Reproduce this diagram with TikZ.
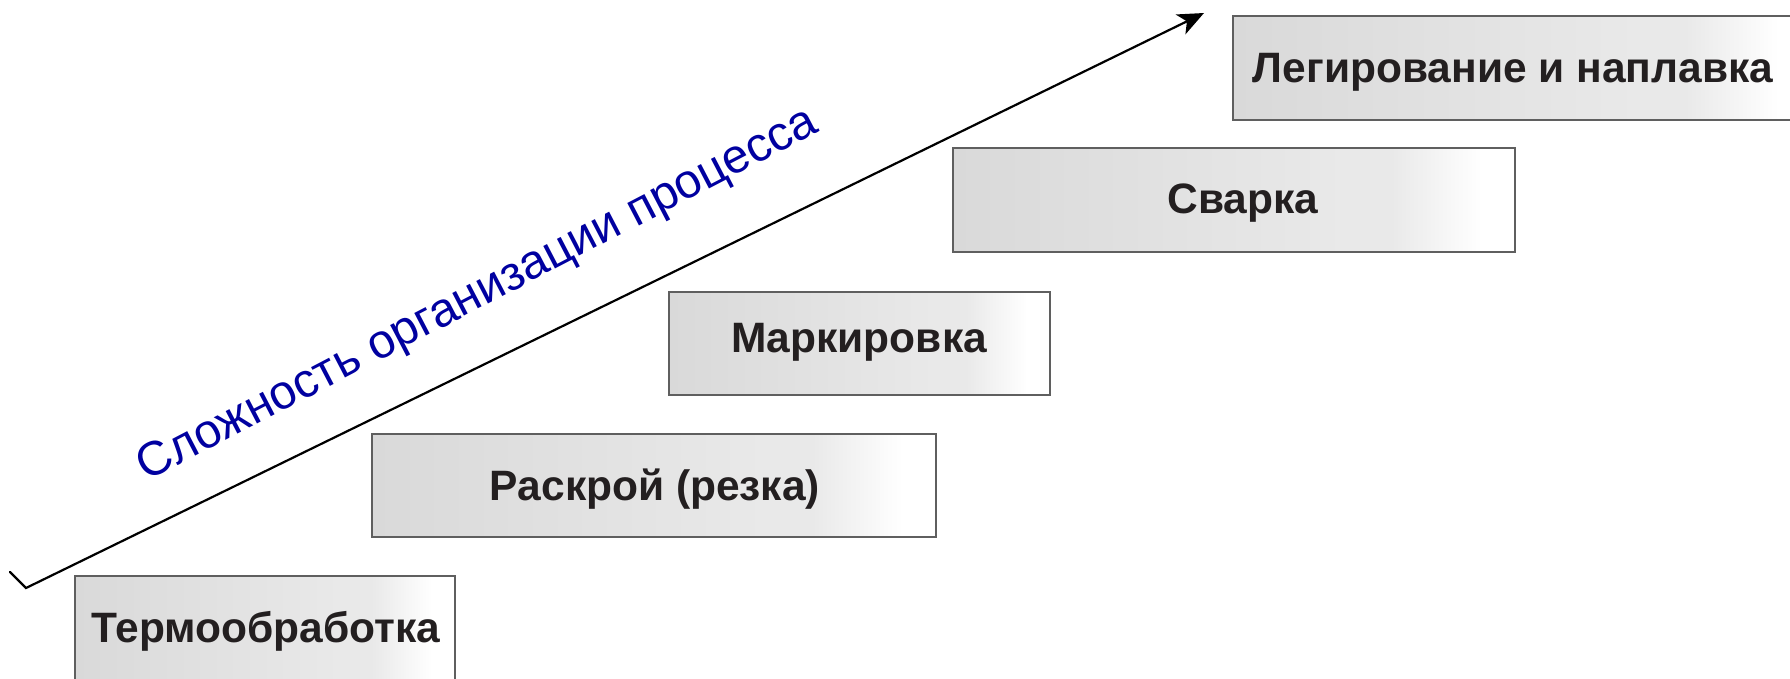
\documentclass[tikz,border=0pt]{standalone}
\usepackage{fontspec}
\setmainfont{Liberation Sans}
\usetikzlibrary{arrows.meta}
\definecolor{sA}{RGB}{217,217,217}
\definecolor{sB}{RGB}{233,233,233}
\definecolor{labelblue}{RGB}{0,0,160}
\definecolor{boxtext}{RGB}{35,31,32}
\definecolor{boxline}{RGB}{95,95,95}
\pgfdeclarehorizontalshading{boxshade}{100bp}{color(0bp)=(sA); color(25bp)=(sA); color(60bp)=(sB); color(64bp)=(sB); color(72bp)=(white); color(100bp)=(white)}
\begin{document}
\begin{tikzpicture}[x=1pt,y=-1pt,
  stepbox/.style={draw=boxline, line width=1.3pt, shading=boxshade, anchor=north west, inner sep=0pt, outer sep=0pt},
  steptext/.style={anchor=base, text=boxtext, inner sep=0pt, font=\fontsize{42.5}{48}\selectfont\bfseries},
  axislabel/.style={text=labelblue, inner sep=0pt, font=\fontsize{48}{54}\selectfont},
  axisline/.style={line width=2.2pt, line cap=round, line join=miter}]
\useasboundingbox (0,0) rectangle (1790,678);
% boxes
\node[stepbox, minimum width=380pt, minimum height=104pt] (b1) at (75,576) {};
\node[stepbox, minimum width=564pt, minimum height=103pt] (b2) at (372,434) {};
\node[stepbox, minimum width=381pt, minimum height=103pt] (b3) at (669,292) {};
\node[stepbox, minimum width=562pt, minimum height=104pt] (b4) at (953,148) {};
\node[stepbox, minimum width=580pt, minimum height=104pt] (b5) at (1233,16) {};
% texts
\node[steptext] (t1) at (266,642) {Термообработка};
\node[steptext] (t2) at (655,500) {Раскрой (резка)};
\node[steptext] (t3) at (859,352) {Маркировка};
\node[steptext] (t4) at (1243,213) {Сварка};
\node[steptext] (t5) at (1513,82) {Легирование и наплавка};
% axis arrow
\coordinate (hook) at (10,572);
\coordinate (tail) at (26,588);
\coordinate (tip) at (1204,13);
\draw[axisline, -{Stealth[length=26pt,width=22pt,inset=7pt]}] (hook) -- (tail) -- (tip);
% axis label
\node[axislabel, rotate=27.5] (lbl) at (478,296) {Сложность организации процесса};
\end{tikzpicture}
\end{document}
